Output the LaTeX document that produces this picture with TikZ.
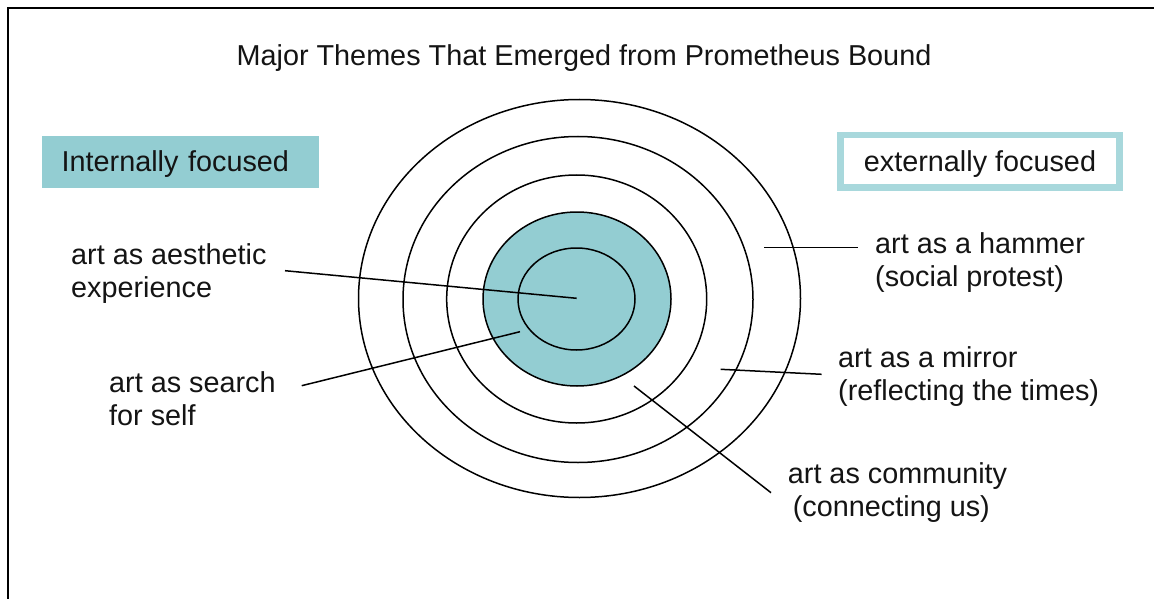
\documentclass[tikz,border=0pt]{standalone}
\usepackage{fontspec}
\setmainfont{Liberation Sans}
\usetikzlibrary{shapes.geometric}
\definecolor{tealfill}{RGB}{147,205,210}
\definecolor{tealline}{RGB}{168,216,220}
\definecolor{ink}{RGB}{20,20,20}
\begin{document}
\begin{tikzpicture}[x=1pt,y=-1pt,
  ring/.style={draw=black, line width=1.5pt, ellipse, inner sep=0pt, outer sep=0pt},
  lbl/.style={anchor=base west, inner sep=0pt, align=left, text=ink, font=\fontsize{28.8}{33}\selectfont},
  leader/.style={draw=black, line width=1.5pt},
  boxlbl/.style={inner sep=0pt, outer sep=0pt, text height=20pt, text depth=0pt, text=ink, font=\fontsize{28.8}{33}\selectfont}]
\useasboundingbox (0,0) rectangle (1154,599);
\fill[white] (0,0) rectangle (1154,599);
\draw[line width=2pt] (8,599) -- (8,8) -- (1154,8);

% title
\node[boxlbl, anchor=base] (title) at (584,66) {Major Themes That Emerged from Prometheus Bound};

% side boxes
\node[boxlbl, fill=tealfill, anchor=north west, minimum width=277pt, minimum height=52pt, text width=237pt, inner xsep=20pt, align=left] (intl) at (41.7,135.7) {Internally focused};
\node[boxlbl, draw=tealline, line width=6.7pt, minimum width=279pt, minimum height=52.7pt] (extl) at (980,161.3) {externally focused};

% concentric rings
\node[ring, minimum width=442pt, minimum height=398pt] (r5) at (579.5,298.5) {};
\node[ring, minimum width=350pt, minimum height=326pt] (r4) at (578,299.5) {};
\node[ring, minimum width=260pt, minimum height=248pt] (r3) at (576.7,299) {};
\node[ring, fill=tealfill, minimum width=188pt, minimum height=174pt] (r2) at (577,299) {};
\node[ring, minimum width=117pt, minimum height=102pt] (r1) at (576.5,299) {};

% labels (base = baseline of the last line)
\node[lbl] (aes) at (71,297) {art as aesthetic\\experience};
\node[lbl] (srch) at (109,425) {art as search\\for self};
\node[lbl] (ham) at (875,286) {art as a hammer\\(social protest)};
\node[lbl] (mir) at (838,400) {art as a mirror\\(reflecting the times)};
\node[lbl] (comm) at (787.7,516.7) {art as community\\\hspace*{5pt}(connecting us)};

% leader end points
\coordinate (aesS) at (285,270.7);
\coordinate (aesE) at (576.7,298.3);
\coordinate (srchS) at (301.7,385.7);
\coordinate (srchE) at (520,331.7);
\coordinate (hamS) at (764,247.7);
\coordinate (hamE) at (858,247.7);
\coordinate (mirS) at (720.7,369.3);
\coordinate (mirE) at (821.7,374.3);
\coordinate (commS) at (634,386);
\coordinate (commE) at (771,492.7);

\draw[leader] (aesS) -- (aesE);
\draw[leader] (srchS) -- (srchE);
\draw[leader] (hamS) -- (hamE);
\draw[leader] (mirS) -- (mirE);
\draw[leader] (commS) -- (commE);
\end{tikzpicture}
\end{document}
